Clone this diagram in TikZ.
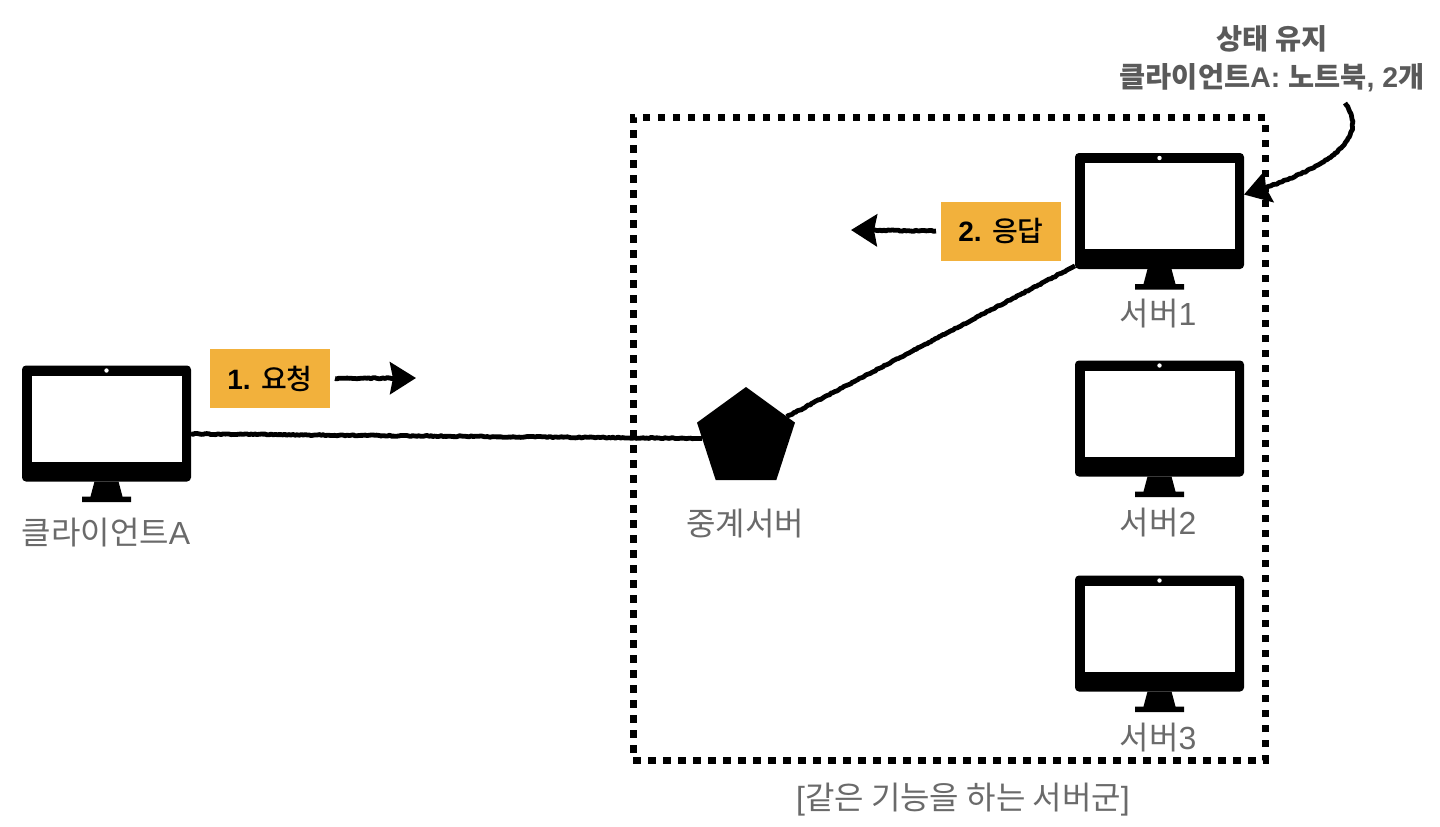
\documentclass[tikz,border=0pt]{standalone}
\usepackage{fontspec}
\setmainfont{Liberation Sans}
\newfontfamily\krfont{Noto Sans CJK KR}
\newfontfamily\krmedium{Noto Sans CJK KR Medium}
\newfontfamily\latinbold{Liberation Sans Bold}
\newcommand{\kr}[1]{{\krfont #1}}
\newcommand{\krm}[1]{{\krmedium\mdseries #1}}
\usetikzlibrary{arrows.meta,decorations.pathmorphing,shapes.geometric}
\definecolor{boxorange}{HTML}{F2B13C}
\definecolor{labelgray}{HTML}{6A6A6A}
\definecolor{notegray}{HTML}{5A5A5A}
\begin{document}
\begin{tikzpicture}[
  x=0.5pt, y=-0.5pt,
  monbody/.style={fill=black, rounded corners=2pt, inner sep=0pt, outer sep=0pt,
                  minimum width=84.5pt, minimum height=58pt},
  monscreen/.style={fill=white, inner sep=0pt, minimum width=75pt, minimum height=43pt},
  monitor/.pic={
    \node[monbody] (-body) at (0,0) {};
    \node[monscreen] (-screen) at (0,-5) {};
    \fill[white] (0,-53) circle (2.2);
    \fill (-12,58) -- (12,58) -- (16,73) -- (24.5,73) -- (24.5,78.5)
      -- (-24.5,78.5) -- (-24.5,73) -- (-16,73) -- cycle;
  },
  label/.style={font=\fontsize{16}{18}\selectfont, text=labelgray, inner sep=0pt},
  step box/.style={fill=boxorange, inner sep=0pt, outer sep=2.5pt, minimum width=60pt,
                   minimum height=29.5pt, font=\fontsize{14}{16}\selectfont\bfseries},
  note/.style={font=\fontsize{14.2}{19}\selectfont\bfseries, text=notegray, align=center, inner sep=0pt},
  rough/.style={line width=2.4pt, line join=round, decorate,
                decoration={random steps, segment length=1pt, amplitude=.28pt, post length=4pt}},
  arrow/.style={rough, -{Stealth[length=13pt, width=16pt, inset=1.5pt]}}
]
  \useasboundingbox (0,0) rectangle (1440,826);

  \node[inner sep=0pt, outer sep=0pt, minimum width=316pt, minimum height=321.5pt,
        draw, line width=3.5pt, dash pattern=on 3.75pt off 3.75pt] (group) at (949,438.5) {};

  \pic (client) at (106.5,423.5) {monitor};
  \pic (server1) at (1159.5,211) {monitor};
  \pic (server2) at (1159.5,418.5) {monitor};
  \pic (server3) at (1159.5,633.5) {monitor};
  \node[regular polygon, regular polygon sides=5, fill=black, inner sep=0pt, outer sep=0pt,
        minimum size=51.5pt] (relay) at (746,438.5) {};

  \node[label] (clientlabel) at (106,533) {\kr{클라이언트}A};
  \node[label] (server1label) at (1158,314) {\kr{서버}1};
  \node[label] (server2label) at (1158,523) {\kr{서버}2};
  \node[label] (server3label) at (1158,738) {\kr{서버}3};
  \node[label] (relaylabel) at (745,524) {\kr{중계서버}};
  \node[label] (grouplabel) at (963,800) {[\kr{같은 기능을 하는 서버군}]};

  \node[step box] (request) at (270,378.5) {1. \krm{요청}};
  \node[step box] (response) at (1001,231) {2. \krm{응답}};
  \node[note] (state) at (1272,59) {\kr{상태 유지}\\\kr{클라이언트}{\latinbold\mdseries A:} \kr{노트북}, 2\kr{개}};

  \coordinate (requesttip) at (416,378);
  \coordinate (responsetip) at (851,230);
  \coordinate (stateout) at (1345,103);

  \draw[rough] (client-body.-7) -- (relay.west);
  \draw[rough] (relay.28) -- (server1-body.213);
  \draw[arrow] (request.east) -- (requesttip);
  \draw[arrow] (response.west) -- (responsetip);
  \draw[arrow] (stateout) .. controls (1372,140) and (1325,170) .. (server1-body.11);
\end{tikzpicture}
\end{document}
